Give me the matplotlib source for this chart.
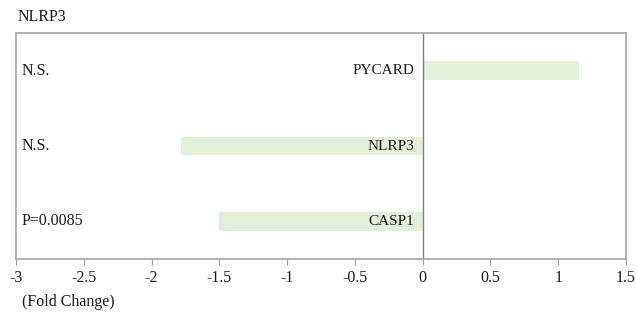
import matplotlib
matplotlib.use("Agg")
import matplotlib.pyplot as plt

genes = ["PYCARD", "NLRP3", "CASP1"]
fold_change = [1.15, -1.78, -1.50]
pvals = ["N.S.", "N.S.", "P=0.0085"]
xticks = [-3, -2.5, -2, -1.5, -1, -0.5, 0, 0.5, 1, 1.5]

plt.rcParams['font.family'] = ['Liberation Serif', 'DejaVu Serif']

fig = plt.figure(figsize=(6.37, 3.14), dpi=100)
ax = fig.add_axes([16/637, 1 - 259/314, 610/637, 226/314])

ypos = list(range(len(genes)))
ax.barh(ypos, fold_change, height=0.25, color="#e2efda", zorder=1)
ax.set_ylim(2.5, -0.5)
ax.set_xlim(-3, 1.5)
ax.axvline(0, color="#7f7f7f", lw=1.0, zorder=2)

for y, g, p in zip(ypos, genes, pvals):
    ax.text(-0.06, y, g, ha="right", va="center", fontsize=11, color="#1a1a1a", zorder=3)
    ax.text(-2.96, y, p, ha="left", va="center", fontsize=11.5, color="#1a1a1a", zorder=3)

ax.set_xticks(xticks)
ax.set_xticklabels([f"{t:g}" for t in xticks], fontsize=11.5, color="#1a1a1a")
ax.set_yticks([])
ax.tick_params(axis="x", direction="out", length=4, color="#999999", pad=4)
for s in ax.spines.values():
    s.set_color("#a6a6a6")
    s.set_linewidth(1.2)

fig.text(18/637, 1 - 17/314, "NLRP3", ha="left", va="center", fontsize=11.5, color="#1a1a1a")
fig.text(22/637, 1 - 302/314, "(Fold Change)", ha="left", va="center", fontsize=11.5, color="#1a1a1a")

fig.savefig("out.png", dpi=100)
